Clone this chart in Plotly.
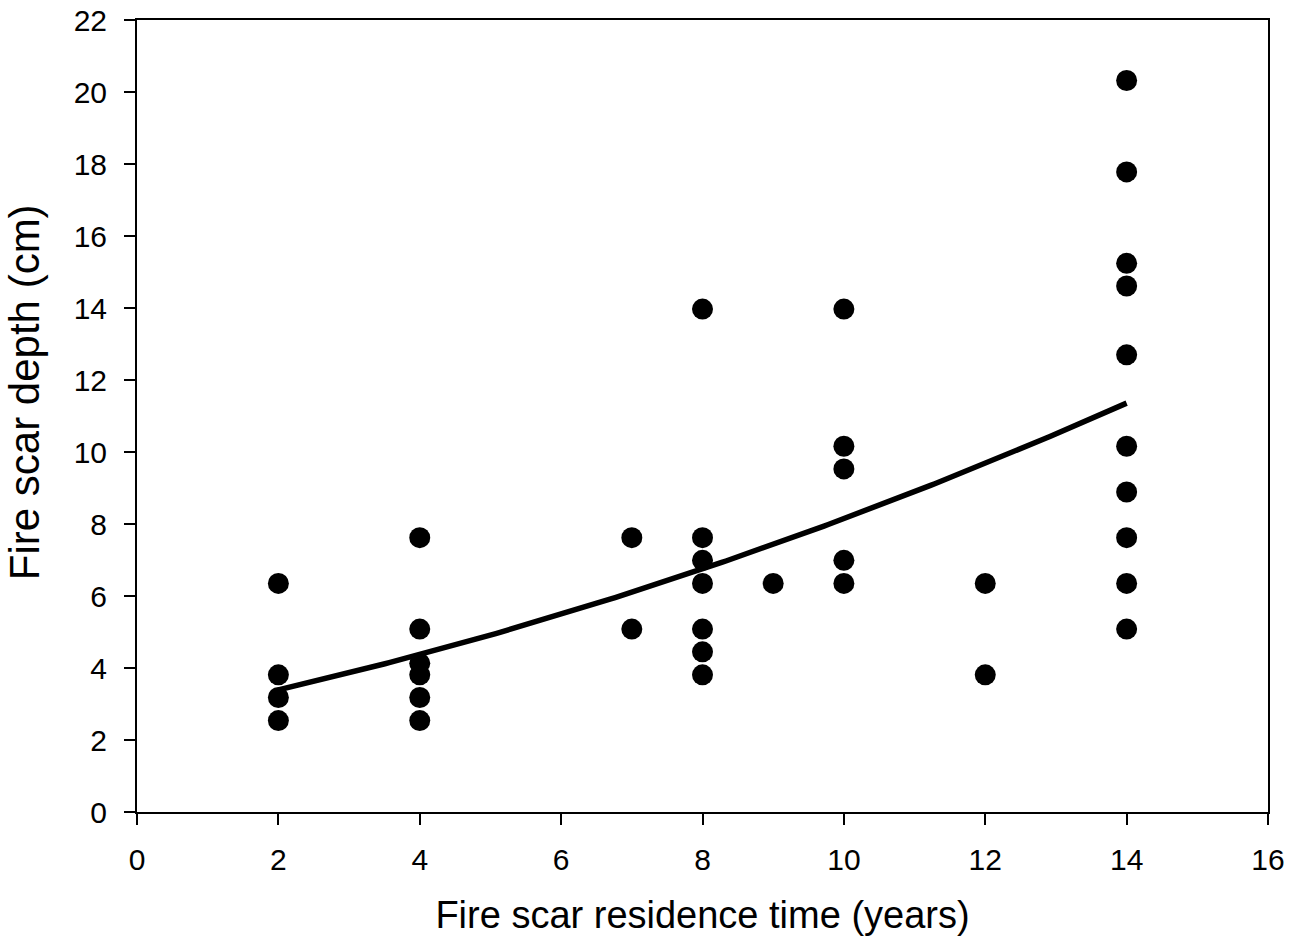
import numpy as np
import plotly.graph_objects as go

# Fire scar residence time (years) and depth (cm) for each sampled scar
residence_years = [2, 2, 2, 2,
                   4, 4, 4, 4, 4, 4,
                   7, 7,
                   8, 8, 8, 8, 8, 8, 8,
                   9,
                   10, 10, 10, 10, 10,
                   12, 12,
                   14, 14, 14, 14, 14, 14, 14, 14, 14, 14]
scar_depth_cm = [6.35, 3.81, 3.18, 2.54,
                 7.62, 5.08, 4.13, 3.81, 3.18, 2.54,
                 7.62, 5.08,
                 13.97, 7.62, 6.99, 6.35, 5.08, 4.45, 3.81,
                 6.35,
                 13.97, 10.16, 9.53, 6.99, 6.35,
                 6.35, 3.81,
                 20.32, 17.78, 15.24, 14.61, 12.70, 10.16, 8.89, 7.62, 6.35, 5.08]

# Fitted regression curve: depth = c0 + c1*t + c2*t^2, over the sampled range
fit_coeffs = [2.551, 0.386, 0.01736]
fit_range = [2, 14]

x_tick_vals = [0, 2, 4, 6, 8, 10, 12, 14, 16]
y_tick_vals = [0, 2, 4, 6, 8, 10, 12, 14, 16, 18, 20, 22]

t_fit = np.linspace(fit_range[0], fit_range[1], 200)
d_fit = fit_coeffs[0] + fit_coeffs[1] * t_fit + fit_coeffs[2] * t_fit ** 2

FONT = "Liberation Sans, Arial, sans-serif"

fig = go.Figure()
fig.add_trace(go.Scatter(
    x=residence_years, y=scar_depth_cm, mode="markers",
    marker=dict(color="black", size=21, line=dict(width=0)),
    showlegend=False,
))
fig.add_trace(go.Scatter(
    x=t_fit, y=d_fit, mode="lines",
    line=dict(color="black", width=5.5),
    showlegend=False,
))

axis_common = dict(
    showgrid=False, zeroline=False, automargin=False,
    showline=True, linecolor="black", linewidth=2, mirror=True,
    ticks="outside", ticklen=11, tickwidth=2, tickcolor="black",
    tickfont=dict(family=FONT, size=30, color="black"),
)

fig.update_xaxes(
    range=[0, 16], tickvals=x_tick_vals,
    title=dict(text="Fire scar residence time (years)", standoff=26,
               font=dict(family=FONT, size=38, color="black")),
    ticklabelstandoff=9,
    **axis_common,
)
fig.update_yaxes(
    range=[0, 22], tickvals=y_tick_vals,
    ticklabelstandoff=11,
    **axis_common,
)

# Y-axis title placed as a rotated annotation
fig.add_annotation(
    text="Fire scar depth (cm)", textangle=-90,
    xref="paper", yref="paper", x=-0.1, y=0.53,
    xanchor="center", yanchor="middle", showarrow=False,
    font=dict(family=FONT, size=42, color="black"),
)

fig.update_layout(
    width=1298, height=950,
    margin=dict(l=137, r=30, t=20, b=138),
    paper_bgcolor="white", plot_bgcolor="white",
)

fig.write_html("out.html")
